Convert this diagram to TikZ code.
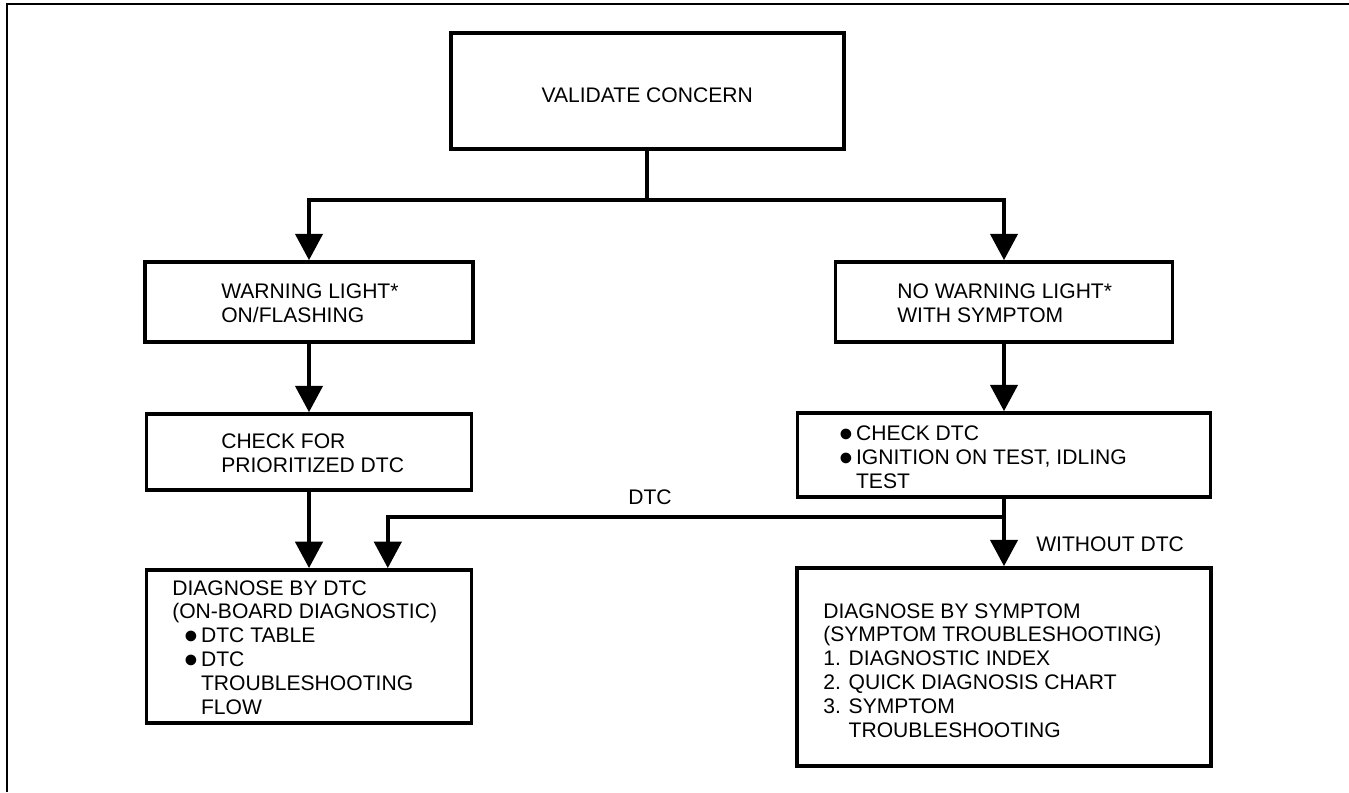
\documentclass[tikz,border=0pt]{standalone}
\usepackage{fontspec}
\setmainfont{Liberation Sans}
\usepackage{tikz}
\usetikzlibrary{positioning,arrows.meta,calc}
\newcommand{\dotitem}{\makebox[0.42cm][l]{\smash{\raisebox{-4.5pt}{\fontsize{28}{28}\selectfont\textbullet}}}}

\begin{document}
\begin{tikzpicture}[
  box/.style={draw, line width=2.6pt, inner sep=0pt},
  txt/.style={font=\fontsize{15}{17}\selectfont, align=left, inner sep=0pt},
  arr/.style={-{Triangle[length=0.66cm, width=0.68cm]}, line width=2.8pt},
  wire/.style={line width=2.8pt},
  lbl/.style={font=\fontsize{15}{17}\selectfont, inner sep=0pt},
]
\useasboundingbox (0,0) rectangle (33.725,-19.8);
% Frame
\draw[line width=1.4pt] (0.175,-19.8) -- (0.175,-0.1) -- (33.725,-0.1);
% Boxes
\foreach \n/\x/\y/\w/\h in {validate/16.18/-2.275/9.825/2.9, warn/7.725/-7.55/8.2/2.0, nowarn/25.1/-7.55/8.425/2.0, check/7.725/-11.3/8.125/1.9, checkdtc/25.1/-11.375/10.325/2.1, bydtc/7.725/-16.16/8.125/3.825, bysym/25.1/-16.675/10.35/4.95} {
  \node[box, minimum width=\w cm, minimum height=\h cm] (\n) at (\x,\y) {};
}
% Texts
\node[txt] (validate-t) at (16.18,-2.39) {VALIDATE CONCERN};
\node[txt, anchor=west] (warn-t) at (5.525,-7.5875) {WARNING LIGHT*\\ON/FLASHING};
\node[txt, anchor=west] (nowarn-t) at (22.425,-7.5875) {NO WARNING LIGHT*\\WITH SYMPTOM};
\node[txt, anchor=west] (check-t) at (5.525,-11.3375) {CHECK FOR\\PRIORITIZED DTC};
\node[txt, anchor=west] (checkdtc-t) at (20.975,-11.4375) {\dotitem CHECK DTC\\\dotitem IGNITION ON TEST, IDLING\\\hspace*{0.42cm}TEST};
\node[txt, anchor=west] (bydtc-t) at (4.3,-16.1875) {DIAGNOSE BY DTC\\(ON-BOARD DIAGNOSTIC)\\\hspace*{0.3cm}\dotitem DTC TABLE\\\hspace*{0.3cm}\dotitem DTC\\\hspace*{0.72cm}TROUBLESHOOTING\\\hspace*{0.72cm}FLOW};
\node[txt, anchor=west] (bysym-t) at (20.575,-16.7625) {DIAGNOSE BY SYMPTOM\\(SYMPTOM TROUBLESHOOTING)\\1. DIAGNOSTIC INDEX\\2. QUICK DIAGNOSIS CHART\\3. SYMPTOM\\\hphantom{3. }TROUBLESHOOTING};
% Labels
\node[lbl] (dtc-lbl) at (16.25,-12.425) {DTC};
\node[lbl, anchor=west] (nodtc-lbl) at (25.9,-13.6) {WITHOUT DTC};
% Arrows
\coordinate (split) at (16.18,-5.0);
\coordinate (dtcsplit) at (25.1,-12.925);
\draw[wire] (validate) -- (split);
\draw[arr] (split) -| (warn);
\draw[arr] (split) -| (nowarn);
\draw[arr] (warn) -- (check);
\draw[arr] (nowarn) -- (checkdtc);
\draw[arr] (check) -- (bydtc);
\draw[arr] (checkdtc) -- (bysym);
\draw[arr] (dtcsplit) -| ([xshift=1.97cm]bydtc.north);
\end{tikzpicture}
\end{document}
